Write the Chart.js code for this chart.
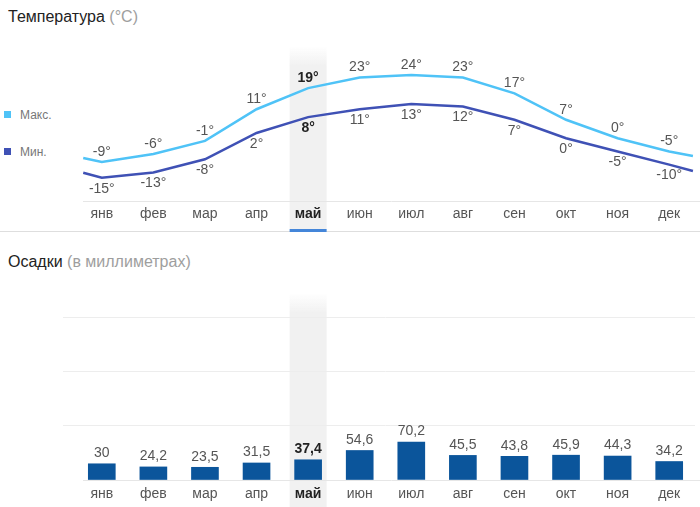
<!DOCTYPE html>
<html>
<head>
<meta charset="utf-8">
<script src="https://cdn.jsdelivr.net/npm/chart.js@4/dist/chart.umd.min.js"></script>
<style>
  body { margin: 0; width: 700px; height: 507px; position: relative; overflow: hidden; background: #fff;
         font-family: Arial, "Liberation Sans", sans-serif; }
  .title { position: absolute; left: 8px; font-size: 16px; line-height: 18px; color: #222; }
  .title span { color: #9e9e9e; }
  .sq { position: absolute; left: 4px; width: 7px; height: 7px; }
  .leg { position: absolute; left: 20px; font-size: 12px; line-height: 14px; color: #777; }
  canvas { position: absolute; left: 0; }
</style>
</head>
<body>
<div class="title" style="top:8px">Температура <span>(°C)</span></div>
<div class="sq" style="top:111px; background:#4fc3f7"></div>
<div class="leg" style="top:108px">Макс.</div>
<div class="sq" style="top:148px; background:#3f51b5"></div>
<div class="leg" style="top:145px">Мин.</div>
<canvas id="tempChart" width="700" height="240" style="top:0"></canvas>

<div class="title" style="top:253px">Осадки <span>(в миллиметрах)</span></div>
<canvas id="rainChart" width="700" height="267" style="top:240px"></canvas>

<script>
//* Input data //*

var months = ['янв', 'фев', 'мар', 'апр', 'май', 'июн', 'июл', 'авг', 'сен', 'окт', 'ноя', 'дек'];
var tempMax = [-9, -6, -1, 11, 19, 23, 24, 23, 17, 7, 0, -5];
var tempMin = [-15, -13, -8, 2, 8, 11, 13, 12, 7, 0, -5, -10];
var edgeMax = [-7.5, -6.7];
var edgeMin = [-13.1, -12.4];
// Values where the lines leave the left and right edges.
var rain = [30, 24.2, 23.5, 31.5, 37.4, 54.6, 70.2, 45.5, 43.8, 45.9, 44.3, 34.2];
var rainTicks = [0, 100, 200, 300];
var currentMonth = 4;
// Index of the highlighted month (май).

var fontFamily = 'Arial, "Liberation Sans", sans-serif';
var colMax = '#4fc3f7';
var colMin = '#3f51b5';
var colBar = '#0b559b';

function lineData(values, edges) {
    // Points on the hidden linear x axis, plus the two edge points.
    var pts = [{x: -0.36, y: edges[0]}];
    values.forEach(function (v, i) { pts.push({x: i, y: v}); });
    pts.push({x: 11.46, y: edges[1]});
    return pts;
}

function monthTicks(padding) {
    return {
        autoSkip: false,
        maxRotation: 0,
        padding: padding,
        color: function (c) { return c.index === currentMonth ? '#222' : '#555'; },
        font: function (c) {
            return {family: fontFamily, size: 14, weight: c.index === currentMonth ? 'bold' : 'normal'};
        }
    };
}

function drawHighlight(chart, top, bottom) {
    // Grey column behind the current month.
    var ctx = chart.ctx;
    var cx = chart.scales.x.getPixelForValue(currentMonth);
    var g = ctx.createLinearGradient(0, top, 0, top + 20);
    g.addColorStop(0, 'rgba(241,241,241,0)');
    g.addColorStop(1, 'rgba(241,241,241,1)');
    ctx.save();
    ctx.fillStyle = g;
    ctx.fillRect(cx - 18.5, top, 37, bottom - top);
    ctx.restore();
}

function hLine(ctx, x0, x1, y, color) {
    ctx.save();
    ctx.strokeStyle = color;
    ctx.lineWidth = 1;
    ctx.beginPath();
    ctx.moveTo(x0, y);
    ctx.lineTo(x1, y);
    ctx.stroke();
    ctx.restore();
}

function drawText(ctx, text, x, y, bold) {
    ctx.save();
    ctx.font = (bold ? 'bold ' : '') + '14px ' + fontFamily;
    ctx.fillStyle = bold ? '#222' : '#555';
    ctx.textAlign = 'center';
    ctx.textBaseline = 'middle';
    ctx.fillText(text, x, y);
    ctx.restore();
}

//* Temperature chart //*

var tempDecor = {
    id: 'tempDecor',
    beforeDraw: function (chart) {
        var ca = chart.chartArea;
        var ctx = chart.ctx;
        drawHighlight(chart, ca.top - 6, ca.bottom + 28);
        hLine(ctx, 83, 700, ca.bottom + 0.5, '#e6e6e6');
        hLine(ctx, 0, 700, 231.5, '#dedede');
        var cx = chart.scales.x.getPixelForValue(currentMonth);
        ctx.fillStyle = '#4486d9';
        ctx.fillRect(cx - 18.5, 229, 37, 3);
        // Blue underline under the current month.
    },
    afterDatasetsDraw: function (chart) {
        var ctx = chart.ctx;
        [tempMax, tempMin].forEach(function (values, d) {
            var meta = chart.getDatasetMeta(d);
            values.forEach(function (v, i) {
                var p = meta.data[i + 1];
                // Skip the edge point at index 0.
                var y = d === 0 ? p.y - 10 : p.y + 11;
                drawText(ctx, v + '°', p.x, y, i === currentMonth);
            });
        });
    }
};

var tempChart = new Chart(document.getElementById('tempChart'), {
    type: 'line',
    data: {
        labels: months,
        datasets: [{
            label: 'Макс.',
            data: lineData(tempMax, edgeMax),
            xAxisID: 'xl',
            borderColor: colMax,
            borderWidth: 2.5,
            pointRadius: 0,
            tension: 0
        }, {
            label: 'Мин.',
            data: lineData(tempMin, edgeMin),
            xAxisID: 'xl',
            borderColor: colMin,
            borderWidth: 2.5,
            pointRadius: 0,
            tension: 0
        }]
    },
    options: {
        responsive: false,
        animation: false,
        layout: {padding: {left: 76, right: 5, top: 52, bottom: 9}},
        plugins: {legend: {display: false}, tooltip: {enabled: false}},
        scales: {
            x: {
                type: 'category',
                labels: months,
                offset: true,
                grid: {display: false, drawTicks: false},
                border: {display: false},
                ticks: monthTicks(5),
                afterFit: function (s) { s.height = 30; }
            },
            xl: {type: 'linear', min: -0.5, max: 11.5, display: false},
            y: {min: -23.8, max: 32.7, display: false}
        }
    },
    plugins: [tempDecor]
});

//* Precipitation chart //*

var rainDecor = {
    id: 'rainDecor',
    beforeDraw: function (chart) {
        var ca = chart.chartArea;
        drawHighlight(chart, ca.top - 7, chart.height);
        hLine(chart.ctx, 83, 700, ca.bottom + 0.5, '#e6e6e6');
    },
    afterDatasetsDraw: function (chart) {
        var meta = chart.getDatasetMeta(0);
        rain.forEach(function (v, i) {
            var b = meta.data[i];
            drawText(chart.ctx, String(v).replace('.', ','), b.x, b.y - 10.5, i === currentMonth);
        });
    }
};

var rainChart = new Chart(document.getElementById('rainChart'), {
    type: 'bar',
    data: {
        labels: months,
        datasets: [{
            label: 'Осадки',
            data: rain,
            backgroundColor: colBar,
            barThickness: 27
        }]
    },
    options: {
        responsive: false,
        animation: false,
        layout: {padding: {left: 63, right: 5, top: 60, bottom: 0}},
        plugins: {legend: {display: false}, tooltip: {enabled: false}},
        scales: {
            x: {
                grid: {display: false, drawTicks: false},
                border: {display: false},
                ticks: monthTicks(6),
                afterFit: function (s) { s.height = 27; }
            },
            y: {
                min: 0,
                max: 333,
                ticks: {display: false},
                border: {display: false},
                grid: {
                    drawTicks: true,
                    tickLength: 13,
                    color: function (c) { return c.tick && c.tick.value === 0 ? 'rgba(0,0,0,0)' : '#ededed'; }
                },
                afterBuildTicks: function (axis) {
                    axis.ticks = rainTicks.map(function (v) { return {value: v}; });
                },
                afterFit: function (s) { s.width = 13; }
            }
        }
    },
    plugins: [rainDecor]
});
</script>
</body>
</html>
